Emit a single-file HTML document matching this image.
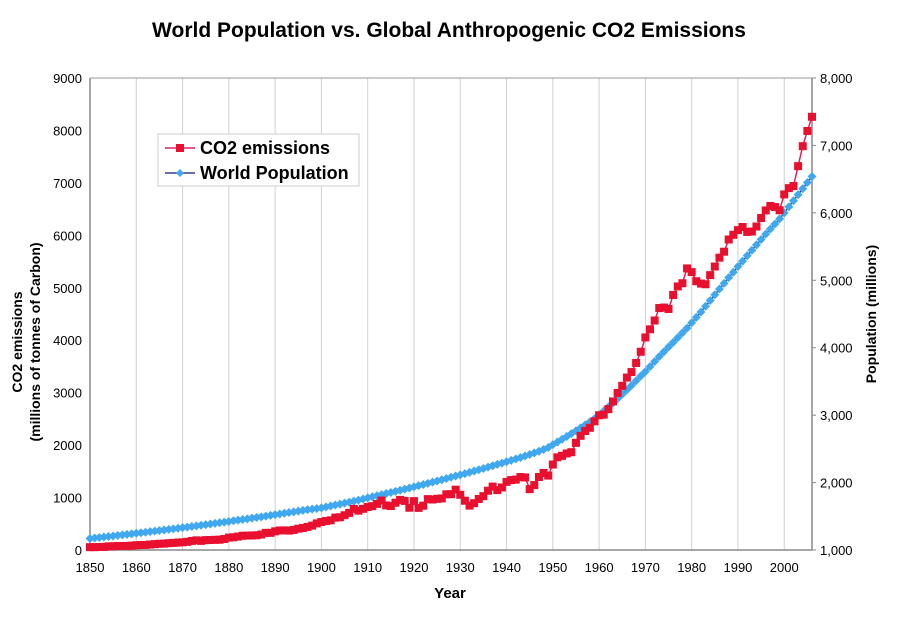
<!DOCTYPE html>
<html><head><meta charset="utf-8"><style>
body{margin:0;background:#fff;}
svg text{font-family:"Liberation Sans",Arial,sans-serif;}
</style></head><body>
<svg id="chart" width="900" height="613" viewBox="0 0 900 613" xmlns="http://www.w3.org/2000/svg">
<text x="449" y="37" text-anchor="middle" font-size="21" font-weight="bold">World Population vs. Global Anthropogenic CO2 Emissions</text>
<g id="grid"></g>
<g id="axes"></g>
<g id="series"></g>
<text transform="translate(22,342) rotate(-90)" text-anchor="middle" font-size="14" font-weight="bold">CO2 emissions</text>
<text transform="translate(40,342) rotate(-90)" text-anchor="middle" font-size="14" font-weight="bold">(millions of tonnes of Carbon)</text>
<text transform="translate(876,314) rotate(-90)" text-anchor="middle" font-size="14" font-weight="bold">Population (millions)</text>
<text x="450" y="598" text-anchor="middle" font-size="15" font-weight="bold">Year</text>
<g>
<rect x="158" y="134" width="201" height="52" fill="#fff" stroke="#ccc"/>
<g>
<line x1="165" y1="148" x2="195" y2="148" stroke="#e0205a" stroke-width="1.5"/>
<rect x="176" y="144" width="8" height="8" fill="#e8102e"/>
<text x="200" y="154" font-size="18" font-weight="bold">CO2 emissions</text></g>
<g>
<line x1="165" y1="173" x2="195" y2="173" stroke="#3a3a8a" stroke-width="1.5"/>
<polygon points="180,169 184,173 180,177 176,173" fill="#40a8ee"/>
<text x="200" y="179" font-size="18" font-weight="bold">World Population</text></g>
</g>
</svg>
<script>
const startYear = 1850;
const co2 = [54,54,57,59,69,71,76,77,78,83,
91,95,97,104,112,119,122,130,135,142,
147,156,173,184,174,188,191,194,196,210,
236,243,256,272,275,277,281,295,327,327,
356,372,374,370,383,406,419,440,465,507,
534,552,566,617,624,663,707,784,750,785,
819,836,879,943,850,838,901,955,936,806,
932,803,845,970,963,975,983,1062,1065,1150,
1053,940,847,893,973,1027,1130,1209,1142,1192,
1299,1334,1342,1391,1383,1160,1238,1392,1469,1419,
1630,1767,1795,1841,1865,2043,2177,2270,2330,2454,
2569,2580,2686,2833,2995,3130,3288,3393,3566,3780,
4053,4208,4376,4614,4623,4596,4863,5026,5087,5369,
5299,5125,5080,5067,5241,5405,5574,5688,5920,6010,
6099,6159,6065,6073,6168,6330,6474,6560,6539,6478,
6780,6900,6940,7320,7700,7990,8260];
const population = [1171,1178,1186,1193,1201,1208,1216,1224,1232,1240,
1248,1256,1264,1272,1280,1289,1297,1306,1314,1323,
1332,1340,1349,1358,1367,1376,1386,1395,1404,1414,
1423,1433,1443,1452,1462,1472,1482,1492,1503,1513,
1524,1534,1545,1556,1566,1577,1588,1599,1607,1615,
1624,1638,1652,1667,1681,1696,1710,1725,1740,1756,
1773,1789,1805,1821,1837,1853,1870,1886,1903,1920,
1937,1954,1971,1988,2006,2024,2042,2060,2078,2097,
2115,2133,2152,2171,2190,2209,2229,2249,2269,2289,
2309,2330,2351,2372,2394,2416,2440,2465,2490,2520,
2562,2602,2643,2684,2726,2769,2812,2856,2901,2947,
3000,3060,3120,3180,3245,3310,3375,3440,3510,3580,
3645,3720,3795,3870,3940,4010,4080,4150,4220,4290,
4370,4450,4530,4615,4700,4785,4870,4955,5040,5120,
5205,5285,5365,5445,5525,5605,5685,5760,5835,5910,
6000,6090,6180,6270,6360,6450,6540];
const xTicks = [1850,1860,1870,1880,1890,1900,1910,1920,1930,1940,1950,1960,1970,1980,1990,2000];
const leftTicks = [0,1000,2000,3000,4000,5000,6000,7000,8000,9000];
const rightTicks = [1000,2000,3000,4000,5000,6000,7000,8000];
const rightTickLabels = ["1,000","2,000","3,000","4,000","5,000","6,000","7,000","8,000"];

const X0=90,X1=812,YT=78,YB=550;
const xS = y => X0 + (y-1850)/(2006-1850)*(X1-X0);
const yL = v => YB - v/9000*(YB-YT);
const yR = v => YB - (v-1000)/7000*(YB-YT);
const NS="http://www.w3.org/2000/svg";
function mk(tag, attrs, parent, txt){const e=document.createElementNS(NS,tag);for(const k in attrs)e.setAttribute(k,attrs[k]);if(txt!==undefined)e.textContent=txt;parent.appendChild(e);return e;}
const grid=document.getElementById('grid'), axes=document.getElementById('axes'), series=document.getElementById('series');
xTicks.forEach(t=>{
  if(t>1850){const g=mk('line',{x1:xS(t),x2:xS(t),y1:YT,y2:YB,stroke:'#d0d0d0','stroke-width':1},grid);
  
  }
  const l=mk('text',{x:xS(t),y:YB+22,'text-anchor':'middle','font-size':13},axes,String(t));
  
  
});
mk('line',{x1:X0,x2:X1,y1:YT,y2:YT,stroke:'#999','stroke-width':1},axes);
mk('line',{x1:X0,x2:X0,y1:YT,y2:YB,stroke:'#888','stroke-width':1.5},axes);
mk('line',{x1:X1,x2:X1,y1:YT,y2:YB,stroke:'#888','stroke-width':1.5},axes);
mk('line',{x1:X0,x2:X1,y1:YB,y2:YB,stroke:'#888','stroke-width':1.5},axes);
leftTicks.forEach(t=>{
  const l=mk('text',{x:X0-8,y:yL(t)+5,'text-anchor':'end','font-size':13},axes,String(t));
  
  
});
rightTicks.forEach((t,i)=>{
  mk('line',{x1:X1,x2:X1+4,y1:yR(t),y2:yR(t),stroke:'#888'},axes);
  const l=mk('text',{x:X1+8,y:yR(t)+5,'font-size':13},axes,rightTickLabels[i]);
  
  
});
const pp=population.map((v,i)=>xS(startYear+i).toFixed(1)+','+yR(v).toFixed(1)).join(' ');
const pl=mk('polyline',{points:pp,fill:'none',stroke:'#3a3a8a','stroke-width':1.5},series);


population.forEach((v,i)=>{const x=xS(startYear+i),y=yR(v);
  const d=mk('polygon',{points:`${x},${y-4.5} ${x+4.5},${y} ${x},${y+4.5} ${x-4.5},${y}`,fill:'#40a8ee'},series);
  
  
});
const cp=co2.map((v,i)=>xS(startYear+i).toFixed(1)+','+yL(v).toFixed(1)).join(' ');
const cl=mk('polyline',{points:cp,fill:'none',stroke:'#e0205a','stroke-width':1.5},series);


co2.forEach((v,i)=>{const x=xS(startYear+i),y=yL(v);
  const r=mk('rect',{x:x-4,y:y-4,width:8,height:8,fill:'#e8102e'},series);
  
  
});
</script>
</body></html>
